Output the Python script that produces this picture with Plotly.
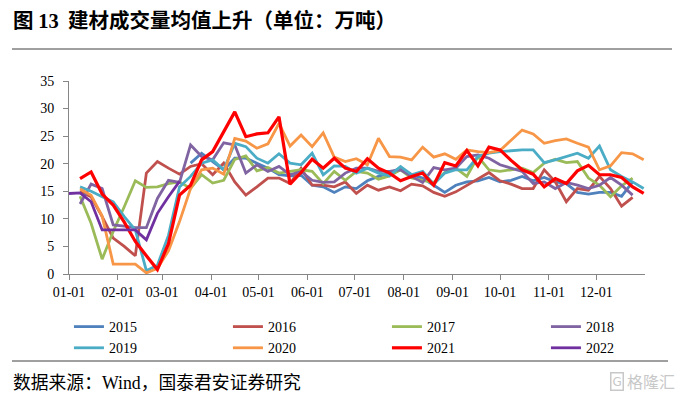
import pandas as pd
import plotly.graph_objects as go

N = None
# weekly observation dates (mapped onto one common calendar year)
week_dates = pd.date_range("2021-01-01", periods=53, freq="7D")

series_names = ["2015", "2016", "2017", "2018", "2019", "2020", "2021", "2022"]

s2015 = [N, N, N, N, N, N, N, N, N, N, N,
         20.1, 21.9, 20.4, 18.9, 21.0, 21.0, 20.1, 19.2, 18.0, 17.8,
         17.9, 16.1, 15.8, 14.8, 15.8, 15.5, 16.9, 17.7, 18.3, 19.2,
         18.0, 17.4, 16.1, 14.8, 16.1, 16.7, 16.9, 17.5, 16.7, 17.0,
         17.7, 16.9, 17.5, 16.7, 16.4, 14.8, 14.5, 14.8, 14.8, 14.1,
         16.7, N]
s2016 = [N, 14.9, 14.0, 10.4, 6.5, 5.0, 3.3, 18.3, 20.4, 19.2, 18.1,
         19.5, 20.0, 18.0, 20.1, 16.7, 14.3, 15.8, 17.4, 17.4, 16.4,
         19.2, 16.1, 16.1, 15.8, 16.7, 14.6, 16.1, 15.2, 15.8, 15.1,
         16.3, 16.0, 14.8, 14.1, 14.9, 16.1, 17.2, 18.4, 16.9, 16.3,
         15.5, 15.5, 18.9, 16.7, 13.1, 15.5, 15.2, 17.7, 15.5, 12.3,
         13.9, N]
s2017 = [N, 14.1, 9.2, 2.7, 7.7, 12.2, 16.9, 15.7, 15.8, 16.4, 16.7,
         15.5, 18.0, 16.5, 17.0, 20.8, 21.4, 18.7, 19.3, 18.3, 18.6,
         18.9, 18.6, 16.4, 18.6, 17.0, 18.6, 18.3, 17.2, 17.8, 18.9,
         17.4, 17.0, 16.6, 18.4, 19.2, 17.7, 21.3, 18.9, 18.6, 18.9,
         19.2, 18.4, 20.1, 20.8, 20.2, 20.4, 17.4, 16.1, 14.0, 16.0,
         17.4, N]
s2018 = [N, 12.7, 16.3, 15.5, 8.9, 8.7, 8.4, 8.4, 13.7, 17.0, 16.6,
         23.4, 21.3, 20.7, 23.8, 23.4, 18.3, 19.8, 18.6, 19.5, 18.0,
         18.6, 17.0, 16.6, 16.7, 18.3, 19.2, 19.2, 18.6, 18.6, 18.9,
         17.7, 16.6, 19.3, 18.9, 19.2, 21.3, 21.6, 21.0, 19.8, 19.2,
         18.6, 16.4, 16.7, 15.5, 16.6, 16.1, 15.5, 16.1, 17.5, 16.1,
         14.3, N]
s2019 = [N, 15.8, 15.0, 14.0, 13.1, 10.4, 8.0, 0.6, 1.6, 7.0, 15.8,
         17.7, 20.1, 20.7, 18.9, 23.7, 23.1, 21.0, 20.1, 21.8, 20.1,
         19.8, 21.9, 18.0, 19.6, 19.5, 18.3, 19.2, 18.3, 17.8, 19.5,
         18.0, 18.6, 16.3, 18.3, 18.9, 18.9, 21.3, 21.9, 22.2, 22.4,
         22.5, 22.5, 20.2, 20.7, 21.3, 21.9, 21.0, 23.2, 18.9, 17.7,
         16.7, 15.5]
s2020 = [N, 15.4, 14.3, 10.5, 1.8, 1.8, 1.8, 0.2, 1.0, 4.2, 9.5,
         15.5, 18.9, 19.2, 18.1, 24.6, 24.1, 22.8, 23.6, 27.3, 23.2,
         25.2, 23.1, 25.6, 21.2, 20.4, 20.9, 19.8, 24.6, 21.3, 21.2,
         20.7, 23.0, 21.2, 21.8, 20.8, 22.5, 22.2, 22.0, 22.4, 24.3,
         26.1, 25.4, 23.7, 24.2, 24.5, 23.7, 23.0, 18.9, 19.6, 22.0,
         21.8, 20.7]
s2021 = [N, 17.3, 18.5, 14.5, 12.5, 9.4, 5.9, 3.3, 0.8, 5.5, 14.3,
         16.1, 20.7, 22.2, 25.8, 29.4, 24.9, 25.4, 25.6, 28.5, 16.3,
         18.4, 20.8, 19.2, 21.0, 19.2, 18.6, 20.9, 19.2, 18.3, 16.9,
         17.7, 18.3, 16.1, 20.2, 19.6, 22.4, 19.6, 23.0, 22.5, 20.6,
         18.9, 18.1, 15.8, 17.3, 16.4, 18.7, 19.7, 18.0, 18.0, 17.5,
         15.8, 14.6]
s2022 = [14.6, 14.7, 13.1, 8.0, 8.0, 8.0, 8.0, 6.2, 11.0, 14.0, 16.8] + [N] * 42

series_values = [s2015, s2016, s2017, s2018, s2019, s2020, s2021, s2022]
series_colors = ["#4F81BD", "#C0504D", "#9BBB59", "#8064A2",
                 "#4BACC6", "#F79646", "#FF0000", "#7030A0"]

W, H = 682, 398
ML, MR, MT, MB = 69, 37, 81, 124
PW, PH = W - ML - MR, H - MT - MB


def px_x(px):
    return (px - ML) / PW


def px_y(py):
    return (H - MB - py) / PH


fig = go.Figure()
for name, vals, col in zip(series_names, series_values, series_colors):
    fig.add_trace(go.Scatter(
        x=week_dates, y=vals, name=name, mode="lines",
        line=dict(color=col, width=3.2 if name == "2021" else 2.8),
        connectgaps=False,
    ))

serif = "Liberation Serif, Times New Roman, serif"
cjk = "Noto Sans CJK SC, sans-serif"

fig.update_layout(
    width=W, height=H,
    margin=dict(l=ML, r=MR, t=MT, b=MB, autoexpand=False),
    paper_bgcolor="white", plot_bgcolor="white",
    showlegend=True,
    legend=dict(
        orientation="h", x=-0.0001, xanchor="left", y=px_y(311), yanchor="top",
        entrywidth=114, entrywidthmode="pixels",
        font=dict(family=serif, size=14, color="black"),
        bgcolor="rgba(0,0,0,0)", tracegroupgap=0,
    ),
    xaxis=dict(
        type="date", range=["2021-01-01", "2021-12-31 20:00"],
        tick0="2021-01-01", dtick="M1", tickformat="%m-%d",
        ticks="outside", ticklen=5, tickcolor="#868686",
        showline=True, linecolor="#868686", linewidth=1,
        showgrid=False, zeroline=False,
        tickfont=dict(family=serif, size=14, color="black"),
    ),
    yaxis=dict(
        range=[0, 35], dtick=5, tick0=0,
        ticks="outside", ticklen=5, tickcolor="#868686",
        showline=True, linecolor="#868686", linewidth=1,
        showgrid=False, zeroline=False,
        tickfont=dict(family=serif, size=14, color="black"),
        ticklabelstandoff=6,
    ),
)

# title
fig.add_annotation(
    xref="paper", yref="paper", x=px_x(11), y=px_y(19),
    xanchor="left", yanchor="middle", showarrow=False,
    text="<b>图 </b><b><span style='font-family:Liberation Serif'>13</span></b><b>  建材成交量均值上升（单位：万吨）</b>",
    font=dict(family=cjk, size=20.5, color="black"),
)
# source
fig.add_annotation(
    xref="paper", yref="paper", x=px_x(11), y=px_y(381),
    xanchor="left", yanchor="middle", showarrow=False,
    text="数据来源：<span style='font-family:Liberation Serif'>Wind</span>，国泰君安证券研究",
    font=dict(family=cjk, size=17.8, color="black"),
)
# watermark
fig.add_annotation(
    xref="paper", yref="paper", x=px_x(677), y=px_y(381),
    xanchor="right", yanchor="middle", showarrow=False,
    text="格隆汇", font=dict(family=cjk, size=16, color="#c8c8c8"),
)
fig.add_annotation(
    xref="paper", yref="paper", x=px_x(617), y=px_y(381),
    xanchor="center", yanchor="middle", showarrow=False,
    text="G", font=dict(family="DejaVu Sans", size=12, color="#c8c8c8"),
    bordercolor="#c8c8c8", borderwidth=1.5, borderpad=1,
)

# separator lines
fig.add_shape(type="line", xref="paper", yref="paper",
              x0=px_x(12), x1=px_x(672), y0=px_y(49), y1=px_y(49),
              line=dict(color="#404040", width=1))
fig.add_shape(type="line", xref="paper", yref="paper",
              x0=px_x(12), x1=px_x(668), y0=px_y(361), y1=px_y(361),
              line=dict(color="#404040", width=1))

fig.write_html("out.html", config={"displayModeBar": False},
               post_script="document.body.style.margin='0';")
